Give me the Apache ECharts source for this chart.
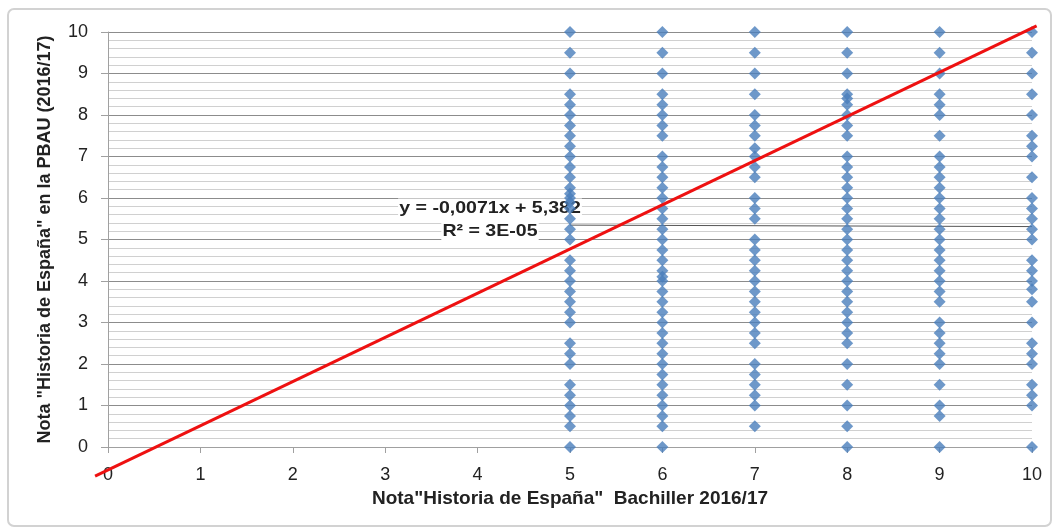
<!DOCTYPE html>
<html>
<head>
<meta charset="utf-8">
<script src="https://cdn.jsdelivr.net/npm/echarts@6/dist/echarts.min.js"></script>
<style>html,body{margin:0;padding:0;background:#fff;}#c{width:1054px;height:530px;}</style>
</head>
<body>
<div id="c"></div>
<script>
// Bachiller grade columns and PBAU grades observed in each
const col5 = [10, 9.5, 9, 8.5, 8.25, 8, 7.75, 7.5, 7.25, 7, 6.75, 6.5, 6.25, 6.1, 6, 5.9, 5.75, 5.5, 5.25, 5, 4.5, 4.25, 4, 3.75, 3.5, 3.25, 3, 2.5, 2.25, 2, 1.5, 1.25, 1, 0.75, 0.5, 0];
const col6 = [10, 9.5, 9, 8.5, 8.25, 8, 7.75, 7.5, 7, 6.75, 6.5, 6.25, 6, 5.75, 5.5, 5.25, 5, 4.75, 4.5, 4.25, 4.1, 4, 3.75, 3.5, 3.25, 3, 2.75, 2.5, 2.25, 2, 1.75, 1.5, 1.25, 1, 0.75, 0.5, 0];
const col7 = [10, 9.5, 9, 8.5, 8, 7.75, 7.5, 7.2, 7, 6.75, 6.5, 6, 5.75, 5.5, 5, 4.75, 4.5, 4.25, 4, 3.75, 3.5, 3.25, 3, 2.75, 2.5, 2, 1.75, 1.5, 1.25, 1, 0.5];
const col8 = [10, 9.5, 9, 8.5, 8.4, 8.25, 8, 7.75, 7.5, 7, 6.75, 6.5, 6.25, 6, 5.75, 5.5, 5.25, 5, 4.75, 4.5, 4.25, 4, 3.75, 3.5, 3.25, 3, 2.75, 2.5, 2, 1.5, 1, 0.5, 0];
const col9 = [10, 9.5, 9, 8.5, 8.25, 8, 7.5, 7, 6.75, 6.5, 6.25, 6, 5.75, 5.5, 5.25, 5, 4.75, 4.5, 4.25, 4, 3.75, 3.5, 3, 2.75, 2.5, 2.25, 2, 1.5, 1, 0.75, 0];
const col10 = [10, 9.5, 9, 8.5, 8, 7.5, 7.25, 7, 6.5, 6, 5.75, 5.5, 5.25, 5, 4.5, 4.25, 4, 3.8, 3.5, 3, 2.5, 2.25, 2, 1.5, 1.25, 1, 0];
const columnX = [5, 6, 7, 8, 9, 10];
const columns = [col5, col6, col7, col8, col9, col10];
// linear trend y = a x + b (from label), drawn over x range of data
const trendCoef = [-0.0071, 5.382];
const trendRange = [5, 10];
// hand-drawn red reference line endpoints [x, y]
const redLine = [[-0.14, -0.7], [10.05, 10.15]];
const xTicks = [0, 1, 2, 3, 4, 5, 6, 7, 8, 9, 10];
const yTicks = [0, 1, 2, 3, 4, 5, 6, 7, 8, 9, 10];
const trendLabel1 = 'y = -0,0071x + 5,382';
const trendLabel2 = 'R² = 3E-05';
const xTitle = 'Nota"Historia de España"  Bachiller 2016/17';
const yTitle = 'Nota "Historia de España" en la PBAU (2016/17)';

const points = [];
columns.forEach((c, i) => c.forEach(v => points.push([columnX[i], v])));
const trendData = trendRange.map(x => [x, trendCoef[0] * x + trendCoef[1]]);

const FONT = 'Liberation Sans';
const chart = echarts.init(document.getElementById('c'), null, {renderer: 'canvas'});
chart.setOption({
  animation: false,
  backgroundColor: '#fff',
  textStyle: {fontFamily: FONT},
  grid: {left: 108, right: 22, top: 32, bottom: 83},
  xAxis: {
    type: 'value', min: xTicks[0], max: xTicks[xTicks.length - 1], interval: 1,
    axisLine: {show: true, onZero: false, lineStyle: {color: '#a0a0a0', width: 1}},
    axisTick: {show: true, length: 6, lineStyle: {color: '#a0a0a0'}},
    axisLabel: {fontSize: 18, color: '#222', margin: 19, fontFamily: FONT},
    splitLine: {show: false},
    name: xTitle, nameLocation: 'middle', nameGap: 42,
    nameTextStyle: {fontSize: 19, fontWeight: 'bold', color: '#222', fontFamily: FONT}
  },
  yAxis: {
    type: 'value', min: yTicks[0], max: yTicks[yTicks.length - 1], interval: 1,
    axisLine: {show: true, lineStyle: {color: '#a0a0a0', width: 1}},
    axisTick: {show: true, length: 7, lineStyle: {color: '#a0a0a0'}},
    axisLabel: {fontSize: 18, color: '#222', margin: 20, fontFamily: FONT},
    splitLine: {show: true, lineStyle: {color: '#8c8c8c', width: 1}},
    minorTick: {show: false, splitNumber: 5},
    minorSplitLine: {show: true, lineStyle: {color: '#d0d0d0', width: 1}},
    name: yTitle, nameLocation: 'middle', nameGap: 54, nameRotate: 90,
    nameTextStyle: {fontSize: 18, fontWeight: 'bold', color: '#222', fontFamily: FONT}
  },
  graphic: [
    {id: 'frame', type: 'rect', silent: true, shape: {x: 8, y: 9, width: 1043, height: 517, r: 6},
     style: {fill: 'none', stroke: '#d2d2d2', lineWidth: 2}},
    {id: 't1', type: 'text', silent: true, x: 490, y: 208, scaleX: 1.15, z: 1,
     style: {text: trendLabel1, font: 'bold 17px "Liberation Sans"', fill: '#222', align: 'center', verticalAlign: 'middle',
             backgroundColor: '#fff', padding: [1, 1]}},
    {id: 't2', type: 'text', silent: true, x: 490, y: 231, scaleX: 1.15, z: 1,
     style: {text: trendLabel2, font: 'bold 17px "Liberation Sans"', fill: '#222', align: 'center', verticalAlign: 'middle',
             backgroundColor: '#fff', padding: [1, 1]}}
  ],
  series: [
    {type: 'line', data: trendData, symbol: 'none', z: 2,
     lineStyle: {color: '#555', width: 1}},
    {type: 'scatter', data: points, symbol: 'diamond', symbolSize: 12, z: 3,
     itemStyle: {color: '#4a7ebb'}}
  ]
});
// red reference line, positioned through the chart's own scales (extends beyond the grid)
const redPts = redLine.map(p => chart.convertToPixel({gridIndex: 0}, p));
chart.setOption({
  graphic: [
    {id: 'red', type: 'polyline', silent: true, z: 100,
     shape: {points: redPts},
     style: {stroke: '#ee1111', lineWidth: 3, fill: null}}
  ]
});
</script>
</body>
</html>
